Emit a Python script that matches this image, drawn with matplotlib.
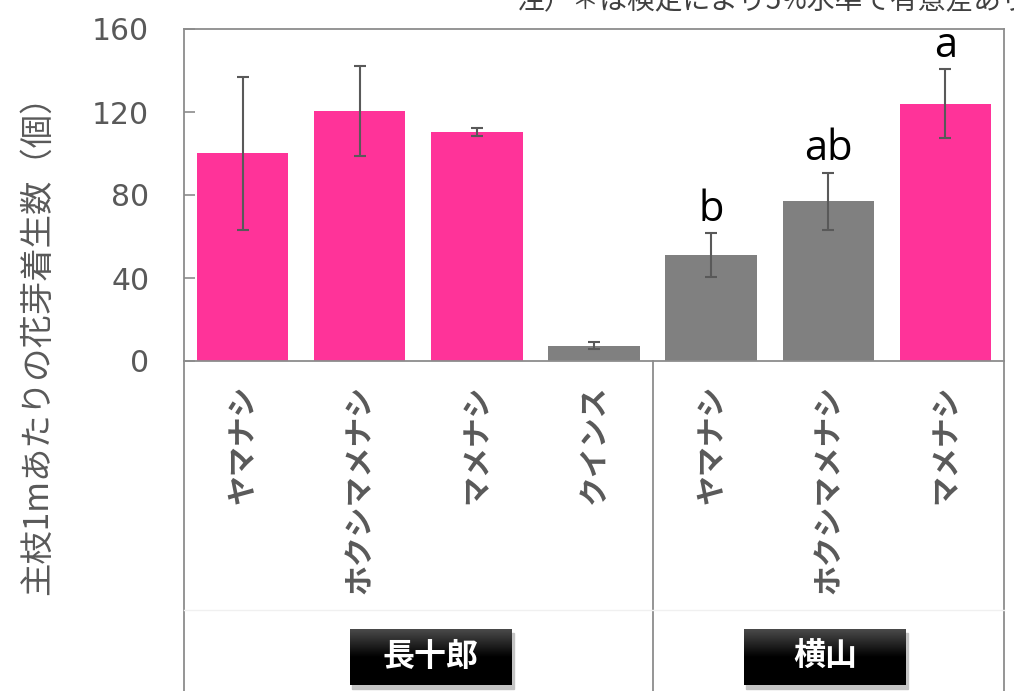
import matplotlib
matplotlib.use("Agg")
import matplotlib.pyplot as plt
import matplotlib.transforms as mtransforms
from matplotlib.colors import LinearSegmentedColormap
from matplotlib.patches import Rectangle
import numpy as np

plt.rcParams['font.family'] = ['Noto Sans CJK JP', 'DejaVu Sans']

# データ
varieties = ['ヤマナシ', 'ホクシマメナシ', 'マメナシ', 'クインス',
             'ヤマナシ', 'ホクシマメナシ', 'マメナシ']
values = [100, 120.5, 110.3, 7.4, 51, 77, 124]
errors = [37, 21.7, 2, 1.8, 10.5, 13.7, 16.5]
colors = ['#FF3399', '#FF3399', '#FF3399', '#808080',
          '#808080', '#808080', '#FF3399']
sig_letters = ['', '', '', '', 'b', 'ab', 'a']
groups = ['長十郎', '横山']
yticks = [0, 40, 80, 120, 160]

W, H = 1014, 691
fig = plt.figure(figsize=(W / 100, H / 100), dpi=100)
ax = fig.add_axes([184 / W, 1 - 361 / H, (1004 - 184) / W, (361 - 29) / H])

x = np.arange(len(values))
ax.bar(x, values, width=0.78, color=colors, zorder=2)
ax.errorbar(x, values, yerr=errors, fmt='none', ecolor='#595959',
            elinewidth=1.5, capsize=4, capthick=1.5, zorder=3)

# 有意差の文字
for xi, v, e, s in zip(x, values, errors, sig_letters):
    if s:
        ax.annotate(s, (xi, v + e), xytext=(0, 9), textcoords='offset points',
                    ha='center', va='baseline', fontsize=30,
                    family=['Open Sans', 'DejaVu Sans'], color='black')

ax.set_xlim(-0.5, len(values) - 0.5)
ax.set_ylim(0, 160)
ax.set_yticks(yticks)
ax.set_yticklabels([str(t) for t in yticks], family=['DejaVu Sans'],
                   fontsize=21.5, color='#595959')
ax.tick_params(axis='y', direction='in', length=8, width=1.2,
               color='#8c8c8c', pad=25)
ax.set_xticks(x)
ax.set_xticklabels(varieties, rotation=90, fontsize=21.5, fontweight='bold',
                   color='#595959')
ax.tick_params(axis='x', length=0, pad=17)
for sp in ax.spines.values():
    sp.set_color('#8c8c8c')
    sp.set_linewidth(1.3)

ax.set_ylabel('主枝1mあたりの花芽着生数（個）', fontsize=24, color='#595959')
ax.yaxis.set_label_coords(-(184 - 37) / (1004 - 184), (361 - 337) / 332)
ax.yaxis.label.set_verticalalignment('center')

# 下部の区切り線
bt = mtransforms.blended_transform_factory(ax.transData, fig.transFigure)
ybot = 1 - 361 / H
for xl in [-0.5, 3.5, len(values) - 0.5]:
    ax.plot([xl, xl], [0, ybot], transform=bt, color='#8c8c8c', lw=1.3,
            clip_on=False)
ax.plot([-0.5, len(values) - 0.5], [1 - 610 / H] * 2, transform=bt,
        color='#f0f0f0', lw=1, clip_on=False)

# 品種グループのラベル
cmap = LinearSegmentedColormap.from_list('g', ['#4a4a4a', '#000000', '#000000'])
grad = np.linspace(0, 1, 100).reshape(-1, 1)
for label, (bx0, bx1) in zip(groups, [(350, 512), (744, 906)]):
    by0, by1 = 629, 685
    sh = Rectangle(((bx0 + 2) / W, 1 - (by1 + 4) / H),
                   (bx1 - bx0) / W, (by1 - by0) / H,
                   transform=fig.transFigure, color='#c4c4c4', zorder=-5)
    fig.patches.append(sh)
    bax = fig.add_axes([bx0 / W, 1 - by1 / H, (bx1 - bx0) / W, (by1 - by0) / H],
                       zorder=5)
    bax.imshow(grad, aspect='auto', cmap=cmap, extent=[0, 1, 0, 1],
               origin='upper')
    bax.set_axis_off()
    bax.text(0.5, 0.5, label, ha='center', va='center', color='white',
             fontsize=23, fontweight='bold', transform=bax.transAxes)

fig.text(517 / W, 1 - 9.5 / H, '注）＊は検定により5%水準で有意差あり',
         fontsize=20, color='#404040', ha='left', va='baseline')

fig.savefig('out.png', dpi=100)
